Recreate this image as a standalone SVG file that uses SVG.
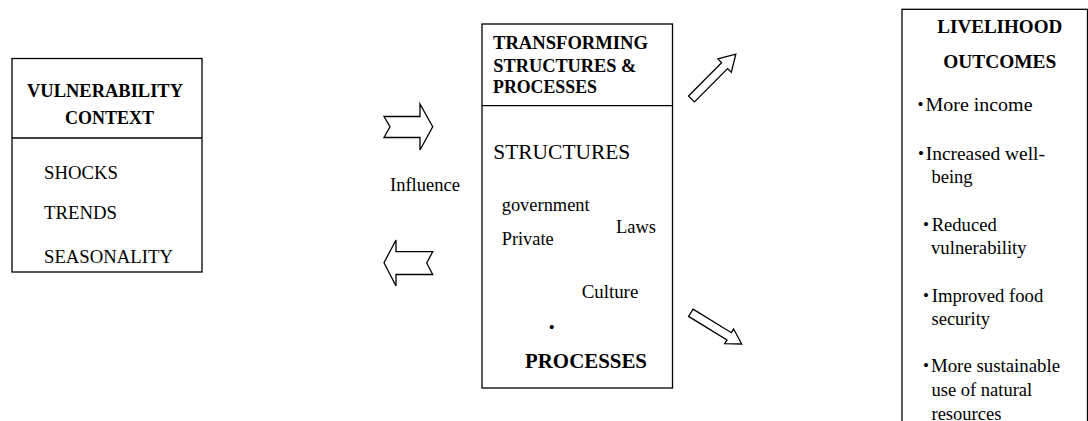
<svg xmlns="http://www.w3.org/2000/svg" width="1088" height="421" viewBox="0 0 1088 421">
<style>
.box{fill:#fff;stroke:#000;stroke-width:1.3}
.div{stroke:#000;stroke-width:1.3}
.arr{fill:#fff;stroke:#000;stroke-width:1.3;stroke-linejoin:miter}
text{font-family:"Liberation Serif",Tinos,"Times New Roman",serif;fill:#000}
.h{font-weight:bold;font-size:18.5px}
.t{font-size:18.5px}
.b{font-size:17px}
</style>
<rect width="1088" height="421" fill="#fff"/>
<g id="vulnerability-context">
<rect class="box" x="12" y="58.5" width="190" height="213.5"/>
<line class="div" x1="12" y1="138" x2="202" y2="138"/>
<text class="h" x="27" y="97" textLength="156" lengthAdjust="spacingAndGlyphs">VULNERABILITY</text>
<text class="h" x="65" y="124" textLength="89" lengthAdjust="spacingAndGlyphs">CONTEXT</text>
<text class="t" x="44" y="179" textLength="74" lengthAdjust="spacingAndGlyphs">SHOCKS</text>
<text class="t" x="44" y="219" textLength="73" lengthAdjust="spacingAndGlyphs">TRENDS</text>
<text class="t" x="44" y="263" textLength="129" lengthAdjust="spacingAndGlyphs">SEASONALITY</text>
</g>
<g id="influence-label">
<text class="t" x="390" y="191" textLength="70" lengthAdjust="spacingAndGlyphs">Influence</text>
</g>
<g id="transforming-structures">
<rect class="box" x="482" y="24" width="190.5" height="364"/>
<line class="div" x1="482" y1="105.7" x2="672.5" y2="105.7"/>
<text class="h" x="493" y="49.3" textLength="155" lengthAdjust="spacingAndGlyphs">TRANSFORMING</text>
<text class="h" x="493.3" y="71.7" textLength="143" lengthAdjust="spacingAndGlyphs">STRUCTURES &amp;</text>
<text class="h" x="493" y="93.3" textLength="104" lengthAdjust="spacingAndGlyphs">PROCESSES</text>
<text x="493.3" y="159.3" style="font-size:21.5px" textLength="137" lengthAdjust="spacingAndGlyphs">STRUCTURES</text>
<text class="t" x="501.7" y="210.5" textLength="88" lengthAdjust="spacingAndGlyphs">government</text>
<text class="t" x="501.7" y="245" textLength="52" lengthAdjust="spacingAndGlyphs">Private</text>
<text class="t" x="616" y="233.3" textLength="40" lengthAdjust="spacingAndGlyphs">Laws</text>
<text class="t" x="581.7" y="298.3" textLength="56.6" lengthAdjust="spacingAndGlyphs">Culture</text>
<text class="b" x="551.7" y="333" text-anchor="middle">•</text>
<text x="525" y="368.3" style="font-size:22px;font-weight:bold" textLength="122" lengthAdjust="spacingAndGlyphs">PROCESSES</text>
</g>
<g id="livelihood-outcomes">
<rect class="box" x="902" y="9.3" width="185.5" height="430"/>
<text class="h" x="937.3" y="33.3" textLength="125" lengthAdjust="spacingAndGlyphs">LIVELIHOOD</text>
<text class="h" x="943.3" y="68" textLength="113" lengthAdjust="spacingAndGlyphs">OUTCOMES</text>
<text class="b" x="917.5" y="110">•</text>
<text class="t" x="925.5" y="111" textLength="107" lengthAdjust="spacingAndGlyphs">More income</text>
<text class="b" x="918" y="159">•</text>
<text class="t" x="925.7" y="160" textLength="119.3" lengthAdjust="spacingAndGlyphs">Increased well-</text>
<text class="t" x="931.5" y="183">being</text>
<text class="b" x="923" y="230">•</text>
<text class="t" x="931.7" y="231" textLength="65" lengthAdjust="spacingAndGlyphs">Reduced</text>
<text class="t" x="931" y="254" textLength="95.7" lengthAdjust="spacingAndGlyphs">vulnerability</text>
<text class="b" x="923" y="301">•</text>
<text class="t" x="931.7" y="302" textLength="111.6" lengthAdjust="spacingAndGlyphs">Improved food</text>
<text class="t" x="931.5" y="325">security</text>
<text class="b" x="923" y="371">•</text>
<text class="t" x="931" y="372" textLength="129" lengthAdjust="spacingAndGlyphs">More sustainable</text>
<text class="t" x="931.5" y="396">use of natural</text>
<text class="t" x="931.5" y="420">resources</text>
</g>
<g id="connectors">
<polygon class="arr" points="384,116.5 420,116.5 420,104 432.7,126.7 420,150 420,137.5 384,137.5 390,126.7"/>
<polygon class="arr" points="384,262.7 396,240 396,251.7 432.7,251.7 426.7,263 432.7,274.5 396,274.5 396,286"/>
<polygon class="arr" transform="translate(691.5,99) rotate(-45.3)" points="0,-4.2 47,-4.2 47,-9.5 63,0 47,9.5 47,4.2 0,4.2"/>
<polygon class="arr" transform="translate(690.8,312.8) rotate(31.5)" points="0,-4.25 45,-4.25 45,-8.5 59.7,0 45,8.5 45,4.25 0,4.25"/>
</g>
</svg>
